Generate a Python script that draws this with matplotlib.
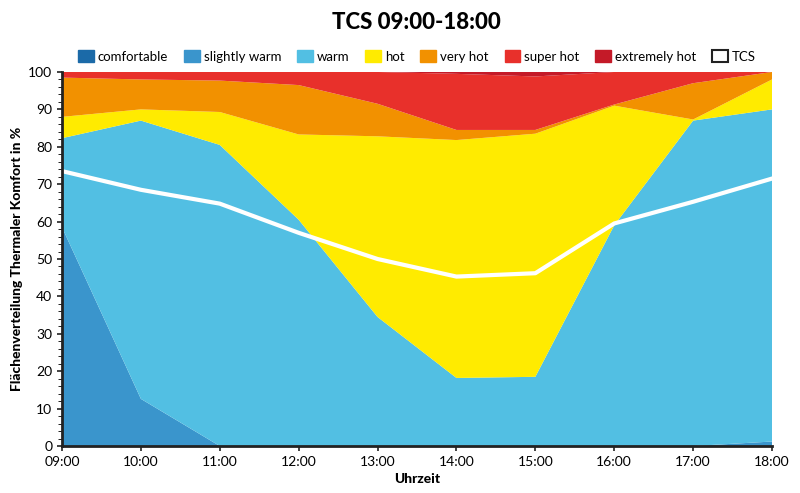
import numpy as np
import matplotlib.pyplot as plt
from matplotlib.patches import Patch
from matplotlib.ticker import MultipleLocator

# --------------- DATA ---------------
hours = ["09:00", "10:00", "11:00", "12:00", "13:00", "14:00", "15:00", "16:00", "17:00", "18:00"]
comfortable = [0, 0, 0, 0, 0, 0, 0, 0, 0, 0]
slightly_warm = [58.5, 12.6, 0, 0, 0, 0, 0, 0, 0, 1.2]
warm = [23.8, 74.4, 80.5, 60.5, 34.5, 18.2, 18.5, 59.0, 87.0, 88.8]
hot = [5.7, 3.0, 8.8, 22.8, 48.3, 63.6, 65.0, 32.0, 0.3, 8.0]
very_hot = [10.5, 8.0, 8.4, 13.2, 8.7, 2.7, 1.0, 0.3, 9.7, 2.0]
super_hot = [1.5, 2.0, 2.3, 3.5, 8.5, 15.0, 14.3, 8.7, 3.0, 0.0]
extremely_hot = [0, 0, 0, 0, 0, 0.5, 1.2, 0, 0, 0]
tcs = [73.5, 68.5, 64.8, 57.0, 50.0, 45.3, 46.2, 59.5, 65.3, 71.5]

labels = ["comfortable", "slightly warm", "warm", "hot", "very hot", "super hot", "extremely hot"]
colors = ["#1b6aa8", "#3a95cc", "#52bfe3", "#ffeb00", "#f29100", "#e8302b", "#c41a28"]

# --------------- PLOT ---------------
plt.rcParams['font.family'] = ['Lato', 'DejaVu Sans']

fig = plt.figure(figsize=(8, 4.93), dpi=100)
ax = fig.add_axes([0.0775, 0.0953, 0.8875, 0.7587])

x = np.arange(len(hours))
ax.stackplot(x, comfortable, slightly_warm, warm, hot, very_hot, super_hot, extremely_hot,
             colors=colors, linewidth=0)
ax.plot(x, tcs, color="white", linewidth=3)

ax.set_xlim(0, len(hours) - 1)
ax.set_ylim(0, 100)
ax.set_xticks(x)
ax.set_xticklabels(hours)
ax.yaxis.set_major_locator(MultipleLocator(10))
ax.yaxis.set_minor_locator(MultipleLocator(2))
ax.tick_params(axis='both', labelsize=10, width=1.2, color="#222222")
ax.tick_params(axis='y', which='minor', length=3)

for s in ["top", "right"]:
    ax.spines[s].set_visible(False)
for s in ["left", "bottom"]:
    ax.spines[s].set_linewidth(2)
    ax.spines[s].set_color("#222222")

ax.set_xlabel("Uhrzeit", fontsize=10, fontweight="black")
ax.set_ylabel("Flächenverteilung Thermaler Komfort in %", fontsize=10, fontweight="black")
fig.text(0.521, 0.955, "TCS 09:00-18:00", fontsize=16, fontweight="black",
         ha="center", va="center")

handles = [Patch(facecolor=c, edgecolor=c) for c in colors]
handles.append(Patch(facecolor="white", edgecolor="#222222", linewidth=1.5))
ax.legend(handles, labels + ["TCS"], loc="lower center", bbox_to_anchor=(0.5, 1.0),
          ncol=8, frameon=False, fontsize=9.5, handlelength=1.2, handleheight=1.0,
          handletextpad=0.3, columnspacing=1.2, borderaxespad=0.3)

fig.savefig("out.png", dpi=100)
